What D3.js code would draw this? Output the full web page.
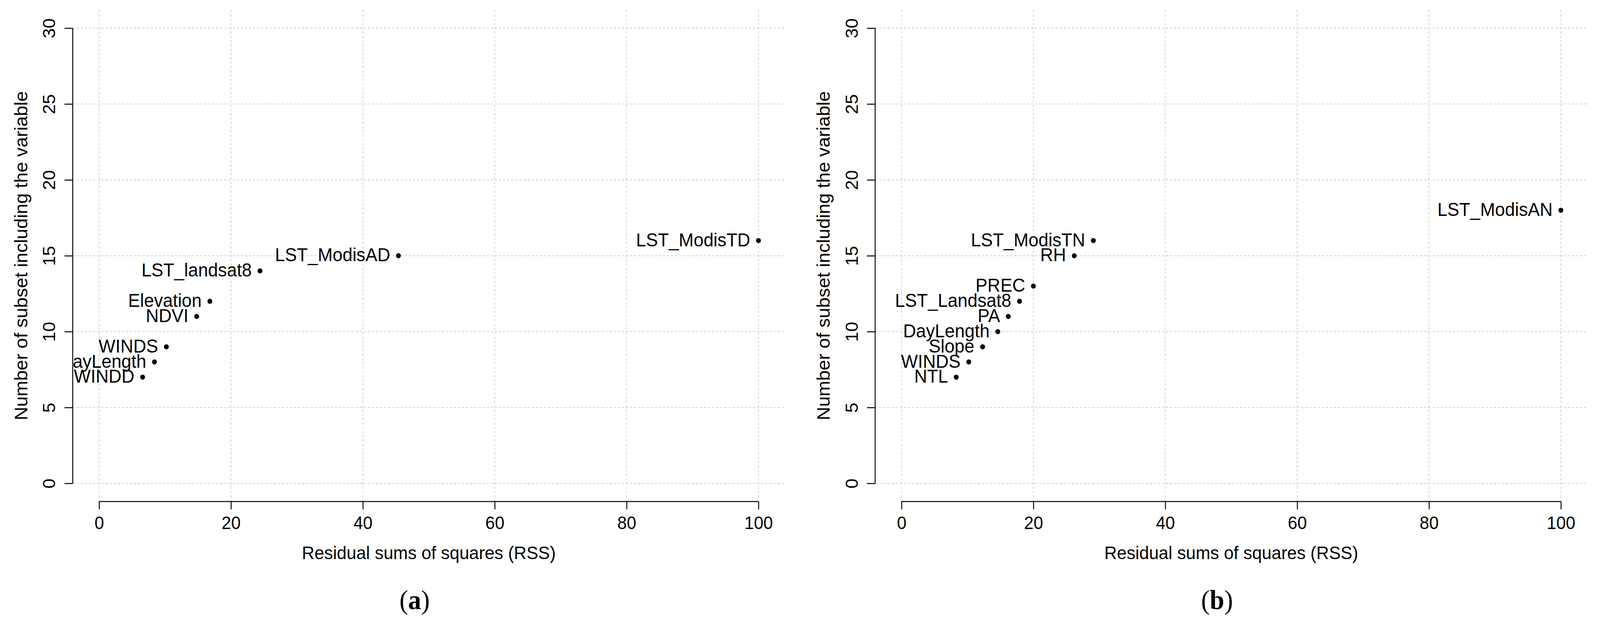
<meta charset='utf-8'>
<script src="https://d3js.org/d3.v7.min.js"></script>
<style>
html, body { margin: 0; padding: 0; background: #fff; overflow: hidden; }
svg { display: block; width: 100vw; height: 100vh; }
</style>
<body></body>
<script>

// DATA
var xTicks = [0, 20, 40, 60, 80, 100];
var yTicks = [0, 5, 10, 15, 20, 25, 30];

var varsA = ['LST_ModisTD', 'LST_ModisAD', 'LST_landsat8', 'Elevation', 'NDVI', 'WINDS', 'DayLength', 'WINDD'];
var rssA = [100, 45.4, 24.4, 16.8, 14.8, 10.2, 8.4, 6.6];
var countA = [16, 15, 14, 12, 11, 9, 8, 7];

var varsB = ['LST_ModisAN', 'LST_ModisTN', 'RH', 'PREC', 'LST_Landsat8', 'PA', 'DayLength', 'Slope', 'WINDS', 'NTL'];
var rssB = [100, 29.1, 26.2, 20.0, 17.9, 16.2, 14.6, 12.3, 10.2, 8.3];
var countB = [18, 16, 15, 13, 12, 11, 10, 9, 8, 7];

var xTitle = 'Residual sums of squares (RSS)';
var yTitle = 'Number of subset including the variable';

// INITIAL SETTINGS
var ww = 4295;
var wh = 1611;
var font = "'Liberation Sans', Arial, sans-serif";
var serif = "'Liberation Serif', 'Times New Roman', serif";
var gridcol = '#d0d0d0';

// drawn in a fixed 4295x1611 box that is stretched to the window
var svg = d3.select('body').append('svg')
    .attr('viewBox', '0 0 ' + ww + ' ' + wh)
    .attr('preserveAspectRatio', 'none');
svg.append('rect')
    .attr('width', ww)
    .attr('height', wh)
    .attr('fill', '#fff');

drawPanel(195.2, varsA, rssA, countA, 'a');
drawPanel(2349.2, varsB, rssB, countB, 'b');

// ONE PANEL
function drawPanel(left, vars, rss, counts, tag) {
    var g = svg.append('g');
    // plot region like R's usr, 4% padding round the data range
    var x = d3.scaleLinear().domain([-4, 104]).range([left, left + 1911.6]);
    var y = d3.scaleLinear().domain([-1.2, 31.2]).range([1284.6, 25.4]);
    var pts = vars.map(function (v, i) { return {name: v, rss: rss[i], n: counts[i]}; });

    // grid
    g.selectAll('.hgrid').data(yTicks).enter().append('line')
        .attr('x1', x.range()[0])
        .attr('x2', x.range()[1])
        .attr('y1', function (d) { return y(d); })
        .attr('y2', function (d) { return y(d); })
        .attr('stroke', gridcol)
        .attr('stroke-width', 2)
        .attr('stroke-dasharray', '6,5');
    g.selectAll('.vgrid').data(xTicks).enter().append('line')
        .attr('x1', function (d) { return x(d); })
        .attr('x2', function (d) { return x(d); })
        .attr('y1', y.range()[1])
        .attr('y2', y.range()[0])
        .attr('stroke', gridcol)
        .attr('stroke-width', 2)
        .attr('stroke-dasharray', '6,5');

    // axes
    var xAxis = g.append('g')
        .attr('transform', 'translate(0,' + y.range()[0] + ')')
        .call(d3.axisBottom(x).tickValues(xTicks).tickSize(20).tickSizeOuter(0))
        .attr('font-size', 46)
        .attr('font-family', font);
    xAxis.select('.domain').attr('d', 'M' + x(0) + ',0H' + x(100)).attr('stroke-width', 2.5);
    xAxis.selectAll('.tick line').attr('stroke-width', 2.5);
    xAxis.selectAll('.tick text').attr('y', 70).attr('dy', null);

    var yAxis = g.append('g')
        .attr('transform', 'translate(' + x.range()[0] + ',0)')
        .call(d3.axisLeft(y).tickValues(yTicks).tickSize(22).tickSizeOuter(0))
        .attr('font-size', 46)
        .attr('font-family', font);
    yAxis.select('.domain').attr('d', 'M0,' + y(0) + 'V' + y(30)).attr('stroke-width', 2.5);
    yAxis.selectAll('.tick line').attr('stroke-width', 2.5);
    yAxis.selectAll('.tick text')
        .attr('x', null)
        .attr('dy', null)
        .attr('text-anchor', 'middle')
        .attr('transform', 'translate(-47,0) rotate(-90)');

    // titles
    g.append('text')
        .attr('x', (x(0) + x(100)) / 2)
        .attr('y', 1432)
        .attr('text-anchor', 'middle')
        .attr('font-family', font)
        .attr('font-size', 47)
        .text(xTitle);
    g.append('text')
        .attr('transform', 'translate(' + (x.range()[0] - 122) + ',' + (y(0) + y(30)) / 2 + ') rotate(-90)')
        .attr('text-anchor', 'middle')
        .attr('font-family', font)
        .attr('font-size', 48)
        .text(yTitle);

    var lab = g.append('text')
        .attr('x', x(0) + 847)
        .attr('y', 1560)
        .attr('text-anchor', 'middle')
        .attr('font-family', serif)
        .attr('font-size', 70);
    lab.append('tspan').text('(');
    lab.append('tspan').attr('font-weight', 'bold').text(tag);
    lab.append('tspan').text(')');

    // points and labels, clipped to the plot region
    var cid = 'clip-' + tag;
    svg.append('clipPath').attr('id', cid).append('rect')
        .attr('x', x.range()[0])
        .attr('y', y.range()[1])
        .attr('width', x.range()[1] - x.range()[0])
        .attr('height', y.range()[0] - y.range()[1]);
    var plot = g.append('g').attr('clip-path', 'url(#' + cid + ')');
    plot.selectAll('circle').data(pts).enter().append('circle')
        .attr('cx', function (d) { return x(d.rss); })
        .attr('cy', function (d) { return y(d.n); })
        .attr('r', 6.5)
        .attr('fill', '#000');
    plot.selectAll('.lbl').data(pts).enter().append('text')
        .attr('x', function (d) { return x(d.rss) - 22; })
        .attr('y', function (d) { return y(d.n) + 14.5; })
        .attr('text-anchor', 'end')
        .attr('font-family', font)
        .attr('font-size', 48)
        .text(function (d) { return d.name; });
}

</script>
